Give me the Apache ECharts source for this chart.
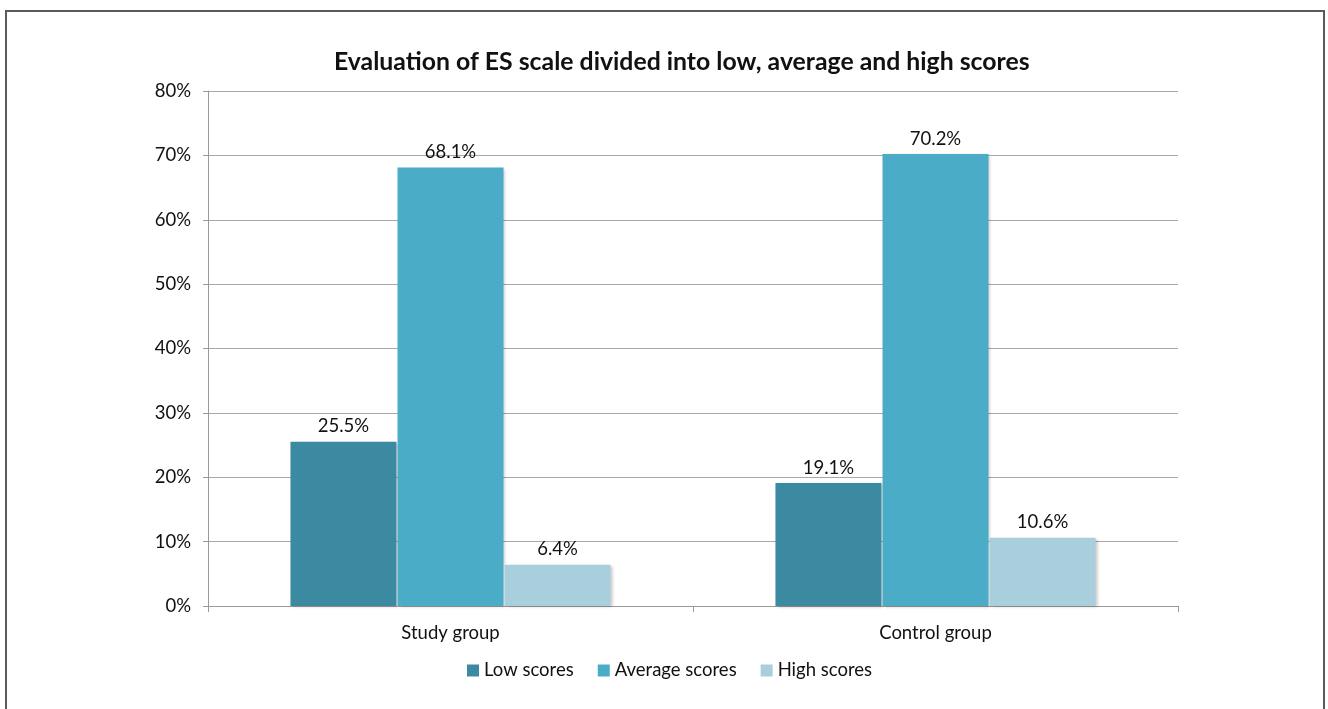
<!DOCTYPE html>
<html>
<head>
<meta charset="utf-8">
<script src="https://cdn.jsdelivr.net/npm/echarts@6/dist/echarts.min.js"></script>
<style>
  html, body { margin: 0; padding: 0; background: #fff; overflow: hidden; }
  #frame { position: absolute; left: 5px; top: 10px; width: 1320px; height: 720px;
           border: 2px solid #5a5a5a; box-sizing: border-box; }
  #chart { position: absolute; left: 0; top: 0; width: 1328px; height: 709px; }
</style>
</head>
<body>
<div id="frame"></div>
<div id="chart"></div>
<script>
const categories = ['Study group', 'Control group'];
const lowScores = [25.5, 19.1];
const averageScores = [68.1, 70.2];
const highScores = [6.4, 10.6];
const yTicks = [0, 10, 20, 30, 40, 50, 60, 70, 80];

const FONT = 'Lato, "Open Sans", sans-serif';
const TEXT_SIZE = 18.5;
const colors = ['#3c8aa1', '#4aacc6', '#a9cfdd'];

function barSeries(name, data, color) {
  return {
    name: name,
    type: 'bar',
    data: data,
    barGap: '1%',
    barCategoryGap: '34%',
    itemStyle: {
      color: color,
      shadowColor: 'rgba(0,0,0,0.22)',
      shadowBlur: 3,
      shadowOffsetX: 2,
      shadowOffsetY: 1
    },
    label: {
      show: true,
      position: 'top',
      distance: 6,
      formatter: p => p.value.toFixed(1) + '%',
      color: '#111',
      fontFamily: FONT,
      fontSize: TEXT_SIZE
    }
  };
}

const chart = echarts.init(document.getElementById('chart'));
chart.setOption({
  animation: false,
  color: colors,
  title: {
    text: 'Evaluation of ES scale divided into low, average and high scores',
    left: 329,
    top: 45,
    textStyle: { fontFamily: FONT, fontWeight: 'bold', fontSize: 24.8, color: '#111' }
  },
  legend: {
    bottom: 24,
    left: 462,
    itemWidth: 12,
    itemHeight: 12,
    itemGap: 24,
    icon: 'rect',
    textStyle: { fontFamily: FONT, fontSize: TEXT_SIZE, color: '#111' },
    data: ['Low scores', 'Average scores', 'High scores']
  },
  grid: { left: 208, right: 150, top: 91, bottom: 103, containLabel: false },
  xAxis: {
    type: 'category',
    data: categories,
    axisLine: { lineStyle: { color: '#9a9a9a', width: 1 } },
    axisTick: { show: true, length: 6, lineStyle: { color: '#9a9a9a' } },
    axisLabel: { fontFamily: FONT, fontSize: TEXT_SIZE, color: '#111', margin: 18 }
  },
  yAxis: {
    type: 'value',
    min: yTicks[0],
    max: yTicks[yTicks.length - 1],
    interval: 10,
    axisLine: { show: true, lineStyle: { color: '#9a9a9a', width: 1 } },
    axisTick: { show: true, length: 5, lineStyle: { color: '#9a9a9a' } },
    splitLine: { lineStyle: { color: '#a8a8a8', width: 1 } },
    axisLabel: { fontFamily: FONT, fontSize: TEXT_SIZE, color: '#111', margin: 17, formatter: '{value}%' }
  },
  series: [
    barSeries('Low scores', lowScores, colors[0]),
    barSeries('Average scores', averageScores, colors[1]),
    barSeries('High scores', highScores, colors[2])
  ]
});
</script>
</body>
</html>
